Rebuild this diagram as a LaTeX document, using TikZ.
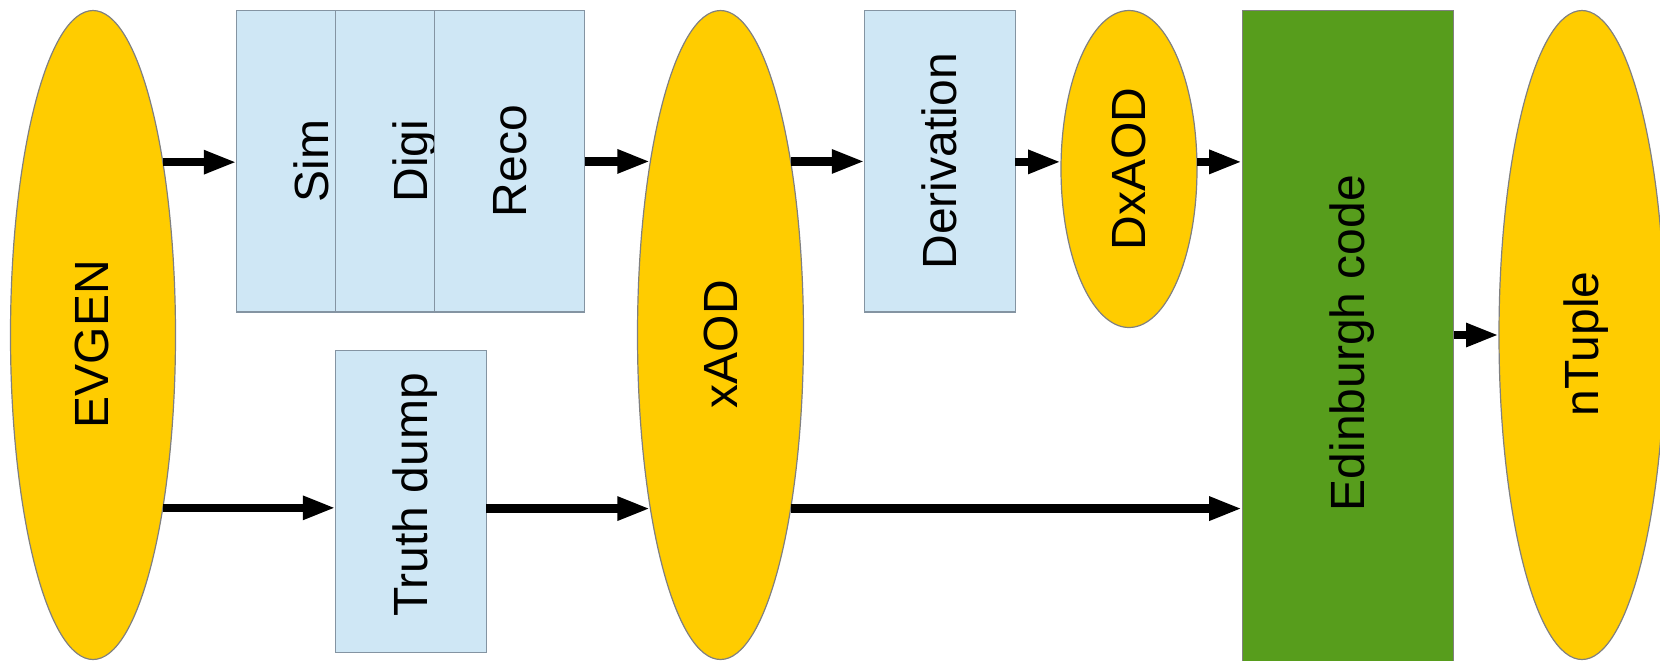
\documentclass[tikz,border=0pt]{standalone}
\usepackage{fontspec}
\setmainfont{Liberation Sans}
\usepackage{graphicx}
\usetikzlibrary{shapes.geometric,arrows.meta}
\definecolor{ygold}{HTML}{FFCC00}
\definecolor{pblue}{HTML}{CFE7F5}
\definecolor{egreen}{HTML}{579D1C}
\definecolor{bord}{HTML}{808080}
\definecolor{bbord}{HTML}{8494A2}
\newcommand\vtxt[1]{\rotatebox{90}{\rule[-0.212em]{0pt}{1.117em}#1}}
\begin{document}
\begin{tikzpicture}[x=0.5pt,y=-0.5pt,
  dataell/.style={ellipse, draw=bord, line width=0.6pt, fill=ygold, inner sep=0pt, outer sep=0pt},
  procbox/.style={rectangle, draw=bbord, line width=0.6pt, fill=pblue, inner sep=0pt, outer sep=0pt,
    minimum width=75.2pt, minimum height=150.7pt},
  lbl/.style={inner sep=0pt, outer sep=0pt, font=\fontsize{24}{28}\selectfont},
  arr/.style={line width=4.3pt, -{Triangle[length=16.5pt,width=11pt]}}]
\useasboundingbox (0,0) rectangle (1660,660);
\clip (0,0) rectangle (1660,660);
% data ellipses
\node[dataell, minimum width=82.5pt, minimum height=324.5pt] (evgen) at (93,335) {};
\node[dataell, minimum width=83pt, minimum height=324.5pt] (xaod) at (720.5,335) {};
\node[dataell, minimum width=68pt, minimum height=158.5pt, lbl] (dxaod) at (1129,169) {\vtxt{DxAOD}};
\node[dataell, minimum width=83pt, minimum height=324.5pt] (ntuple) at (1582,335) {};
% processing boxes
\node[procbox, lbl] (sim) at (312,161.3) {\vtxt{Sim}};
\node[procbox, lbl] (digi) at (411,161.3) {\vtxt{Digi}};
\node[procbox, lbl] (reco) at (509.4,161.3) {\vtxt{Reco}};
\node[procbox, minimum height=151pt] (truth) at (411,501.5) {};
\node[procbox, lbl] (deriv) at (940,161.3) {\vtxt{Derivation}};
\node[rectangle, draw=bord, line width=0.6pt, fill=egreen, inner sep=0pt, outer sep=0pt,
  minimum width=105.8pt, minimum height=349.5pt] (edin) at (1348,360) {};
% labels
\node[lbl] (evgenlbl) at (92,344) {\vtxt{EVGEN}};
\node[lbl] (xaodlbl) at (720.5,344) {\vtxt{xAOD}};
\node[lbl] (ntuplelbl) at (1582,344) {\vtxt{nTuple}};
\node[lbl] (edinlbl) at (1348,343) {\vtxt{Edinburgh code}};
\node[lbl] (truthlbl) at (411,495) {\vtxt{Truth dump}};
% connectors
\draw[arr] (evgen.68) -- (sim.west |- evgen.68);
\draw[arr] (reco.east |- xaod.112) -- (xaod.112);
\draw[arr] (xaod.68) -- (deriv.west |- xaod.68);
\draw[arr] (deriv.east |- dxaod.174) -- (dxaod.174);
\draw[arr] (dxaod.6) -- (edin.west |- dxaod.6);
\draw[arr] (evgen.292) -- (truth.west |- evgen.292);
\draw[arr] (truth.east |- xaod.248) -- (xaod.248);
\draw[arr] (xaod.292) -- (edin.west |- xaod.292);
\draw[arr] (edin.east |- ntuple.west) -- (ntuple.west);
\end{tikzpicture}
\end{document}
